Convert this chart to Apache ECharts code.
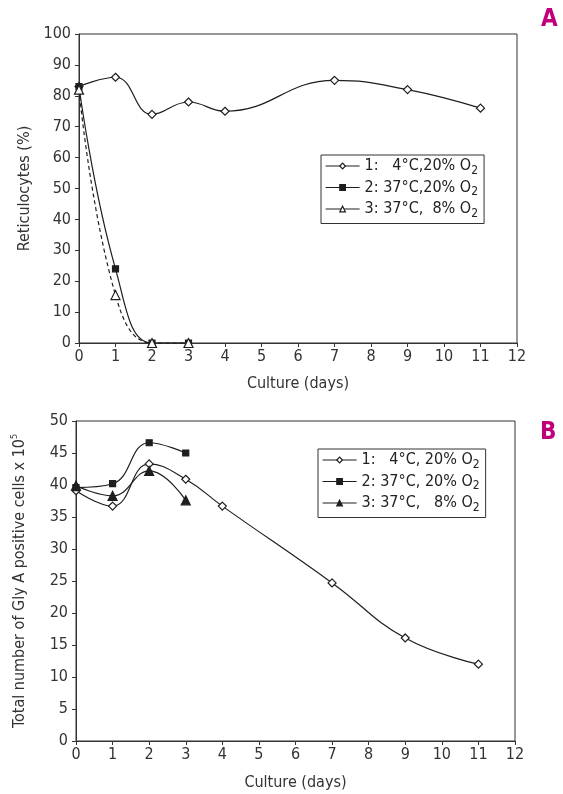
<!DOCTYPE html>
<html>
<head>
<meta charset="utf-8">
<script src="https://cdn.jsdelivr.net/npm/echarts@6/dist/echarts.min.js"></script>
<style>
  html, body { margin: 0; padding: 0; background: #fff; }
  #chart { width: 563px; height: 794px; }
</style>
</head>
<body>
<div id="chart"></div>
<script>
// panel A : reticulocytes (%)
var daysA1 = [0, 1, 2, 3, 4, 7, 9, 11];
var reticA1 = [83, 86, 74, 78, 75, 85, 82, 76];
var daysA23 = [0, 1, 2, 3];
var reticA2 = [83, 24, 0, 0];
var reticA3 = [82, 15.5, 0, 0];
var namesA = ['1:   4°C,20% O2', '2: 37°C,20% O2', '3: 37°C,  8% O2'];

// panel B : Gly A positive cells x 10^5
var daysB1 = [0, 1, 2, 3, 4, 7, 9, 11];
var glyB1 = [39.1, 36.7, 43.3, 40.9, 36.7, 24.7, 16.1, 12];
var daysB23 = [0, 1, 2, 3];
var glyB2 = [39.6, 40.2, 46.6, 45];
var glyB3 = [39.9, 38.3, 42.2, 37.6];
var namesB = ['1:   4°C, 20% O2', '2: 37°C, 20% O2', '3: 37°C,   8% O2'];

var FONT = "'Liberation Sans Narrow', 'DejaVu Sans Condensed', 'Roboto', sans-serif";
var INK = '#1e1e1e';

function pairs(xs, ys) {
    return xs.map(function (x, i) { return [x, ys[i]]; });
}

/**
 * 线条系列
 */
function lineSeries(name, idx, xs, ys, symbol, size, filled, dashed) {
    return {
        name: name,
        type: 'line',
        xAxisIndex: idx,
        yAxisIndex: idx,
        data: pairs(xs, ys),
        smooth: 0.45,
        symbol: symbol,
        symbolSize: size,
        showAllSymbol: true,
        lineStyle: { color: INK, width: 1.2, type: dashed ? [4, 3] : 'solid' },
        itemStyle: { color: filled ? INK : '#fff', borderColor: INK, borderWidth: 1.2 },
        emphasis: { disabled: true },
        z: 3
    };
}

function xAxis(idx, gap) {
    return {
        type: 'value', gridIndex: idx, min: 0, max: 12, interval: 1,
        name: 'Culture (days)', nameLocation: 'middle', nameGap: gap,
        nameTextStyle: { fontFamily: FONT, fontSize: 16, color: '#333' },
        axisLine: { show: true, lineStyle: { color: '#333', width: 1 } },
        axisTick: { show: true, inside: false, length: 4, lineStyle: { color: '#333' } },
        axisLabel: { fontFamily: FONT, fontSize: 16, color: '#333', margin: 6 },
        splitLine: { show: false }
    };
}

function yAxis(idx, max, step, name, gap) {
    return {
        type: 'value', gridIndex: idx, min: 0, max: max, interval: step,
        name: name, nameLocation: 'middle', nameGap: gap, nameRotate: 90,
        nameTextStyle: {
            fontFamily: FONT, fontSize: 16, color: '#333',
            rich: { sup: { fontFamily: FONT, fontSize: 9, color: '#333', padding: [0, 0, 10, 0] } }
        },
        axisLine: { show: true, lineStyle: { color: '#333', width: 1 } },
        axisTick: { show: true, inside: false, length: 4, lineStyle: { color: '#333' } },
        axisLabel: { fontFamily: FONT, fontSize: 16, color: '#333', margin: 8 },
        splitLine: { show: false }
    };
}

// fills: marker fill per legend row
function legend(names, fills, left, top, width) {
    return {
        data: names.map(function (n, i) {
            return {
                name: n,
                lineStyle: { type: 'solid', width: 1.2, color: INK },
                itemStyle: { color: fills[i], borderColor: INK, borderWidth: 1.2 }
            };
        }),
        orient: 'vertical',
        left: left,
        top: top,
        width: width,
        itemWidth: 34,
        itemHeight: 7,
        itemGap: 3,
        padding: [3, 6, 4, 4],
        borderColor: '#333',
        borderWidth: 1,
        backgroundColor: '#fff',
        selectedMode: false,
        textStyle: {
            fontFamily: FONT, fontSize: 16, color: '#222',
            rich: {
                t: { fontFamily: FONT, fontSize: 16, color: '#222' },
                sub: { fontFamily: FONT, fontSize: 12, color: '#222', padding: [9, 0, 0, 0] }
            }
        },
        formatter: function (n) {
            return '{t|' + n.slice(0, -1) + '}{sub|' + n.slice(-1) + '}';
        }
    };
}

var chart = echarts.init(document.getElementById('chart'));
var option = {
    animation: false,
    backgroundColor: '#fff',
    grid: [
        { left: 79, top: 34, width: 438, height: 309, show: true, borderColor: '#333', borderWidth: 1 },
        { left: 76, top: 421, width: 439, height: 320, show: true, borderColor: '#333', borderWidth: 1 }
    ],
    xAxis: [xAxis(0, 33), xAxis(1, 34)],
    yAxis: [
        yAxis(0, 100, 10, 'Reticulocytes (%)', 39),
        yAxis(1, 50, 5, 'Total number of Gly A positive cells x 10{sup|5}', 47)
    ],
    legend: [
        legend(namesA, ['#fff', INK, '#fff'], 321, 155, 170),
        legend(namesB, ['#fff', INK, INK], 318, 449, 175)
    ],
    graphic: [
        { type: 'text', left: 541, top: 8, style: { text: 'A', fontFamily: FONT, fontWeight: 'bold', fontSize: 24, fill: '#c0007a' } },
        { type: 'text', left: 540, top: 421, style: { text: 'B', fontFamily: FONT, fontWeight: 'bold', fontSize: 24, fill: '#c0007a' } }
    ],
    series: [
        lineSeries(namesA[0], 0, daysA1, reticA1, 'diamond', 8, false, false),
        lineSeries(namesA[1], 0, daysA23, reticA2, 'rect', 6, true, false),
        lineSeries(namesA[2], 0, daysA23, reticA3, 'triangle', 9, false, true),
        lineSeries(namesB[0], 1, daysB1, glyB1, 'diamond', 8, false, false),
        lineSeries(namesB[1], 1, daysB23, glyB2, 'rect', 6, true, false),
        lineSeries(namesB[2], 1, daysB23, glyB3, 'triangle', 9, true, false)
    ]
};
chart.setOption(option);

window.addEventListener('resize', function () {
    chart.resize();
});
</script>
</body>
</html>
